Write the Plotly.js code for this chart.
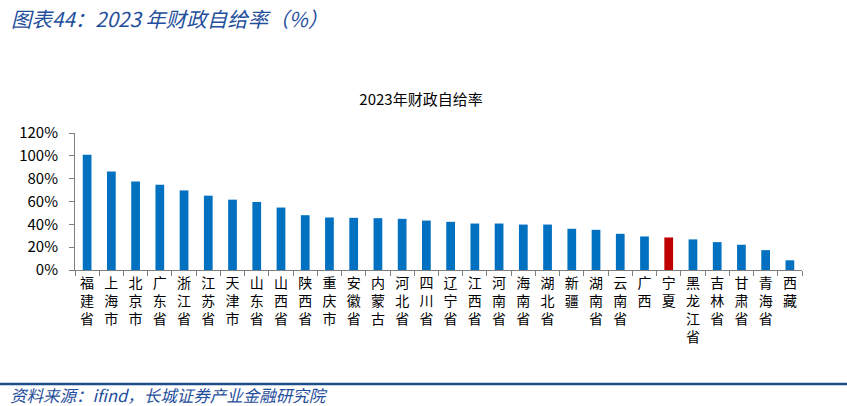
<!DOCTYPE html>
<html>
<head>
<meta charset="utf-8">
<script src="https://cdn.plot.ly/plotly-3.0.1.min.js"></script>
<style>
html,body{margin:0;padding:0;background:#fff;}
#chart{width:847px;height:406px;}
</style>
</head>
<body>
<div id="chart"></div>
<script>
const categories = ["福建省","上海市","北京市","广东省","浙江省","江苏省","天津市","山东省","山西省","陕西省","重庆市","安徽省","内蒙古","河北省","四川省","辽宁省","江西省","河南省","海南省","湖北省","新疆","湖南省","云南省","广西","宁夏","黑龙江省","吉林省","甘肃省","青海省","西藏"];
const selfSufficiency = [101, 86.3, 77.6, 74.7, 69.7, 65.1, 61.6, 59.6, 54.7, 48.0, 46.0, 45.7, 45.4, 44.8, 43.3, 42.2, 40.7, 40.7, 39.8, 39.8, 36.1, 35.2, 31.7, 29.4, 28.5, 26.8, 24.4, 22.1, 17.4, 8.5];
const highlight = "宁夏";
const yTicks = [0, 20, 40, 60, 80, 100, 120];

const FONT = '"Noto Sans CJK SC", "Noto Sans", sans-serif';
const colors = categories.map(c => c === highlight ? '#C00000' : '#0070C0');
const tickText = categories.map(c => c.split('').join('<br>'));

const L = 75, R = 802, T = 133, B = 270, W = 847, H = 406;
const pw = R - L, ph = B - T;
const px = x => (x - L) / pw;
const py = y => (B - y) / ph;

const trace = {
  type: 'bar',
  x: categories,
  y: selfSufficiency,
  marker: {color: colors, line: {width: 0}},
  hoverinfo: 'x+y'
};

const layout = {
  width: W, height: H,
  margin: {l: L, r: W - R, t: T, b: H - B, pad: 0},
  paper_bgcolor: '#fff', plot_bgcolor: '#fff',
  bargap: 0.64,
  showlegend: false,
  font: {family: FONT, color: '#000'},
  title: {
    text: '2023年财政自给率',
    font: {family: FONT, size: 15, color: '#000'},
    x: px(421), xref: 'paper', xanchor: 'center',
    y: 1 - 100 / H, yref: 'container', yanchor: 'middle'
  },
  xaxis: {
    type: 'category',
    tickmode: 'array',
    tickvals: categories,
    ticktext: tickText,
    tickangle: 0,
    tickfont: {family: FONT, size: 14, color: '#000'},
    showline: true, linecolor: '#7f7f7f', linewidth: 1,
    ticks: 'outside', ticklen: 5, tickcolor: '#7f7f7f', tickson: 'boundaries',
    showgrid: false, zeroline: false,
    automargin: false
  },
  yaxis: {
    range: [0, 120],
    tickmode: 'array',
    tickvals: yTicks,
    ticktext: yTicks.map(v => v + '%'),
    tickfont: {family: FONT, size: 15, color: '#000'},
    showline: true, linecolor: '#7f7f7f', linewidth: 1,
    ticks: 'outside', ticklen: 5, tickcolor: '#7f7f7f',
    showgrid: false, zeroline: false,
    ticklabelstandoff: 8,
    automargin: false
  },
  shapes: [{
    type: 'line', xref: 'paper', yref: 'paper',
    x0: px(0), x1: px(W), y0: py(384), y1: py(384),
    line: {color: '#1F4E8C', width: 2.5}
  }],
  annotations: [
    {
      text: '<i>图表44：2023 年财政自给率（%）</i>',
      xref: 'paper', yref: 'paper', x: px(9), y: py(18),
      xanchor: 'left', yanchor: 'middle', showarrow: false,
      font: {family: FONT, size: 20.5, color: '#1F4E9C'}
    },
    {
      text: '<i>资料来源：ifind，长城证券产业金融研究院</i>',
      xref: 'paper', yref: 'paper', x: px(9), y: py(395),
      xanchor: 'left', yanchor: 'middle', showarrow: false,
      borderpad: 0,
      font: {family: FONT, size: 16.5, color: '#1F4E9C'}
    }
  ]
};

Plotly.newPlot('chart', [trace], layout, {displayModeBar: false, staticPlot: true});
</script>
</body>
</html>
